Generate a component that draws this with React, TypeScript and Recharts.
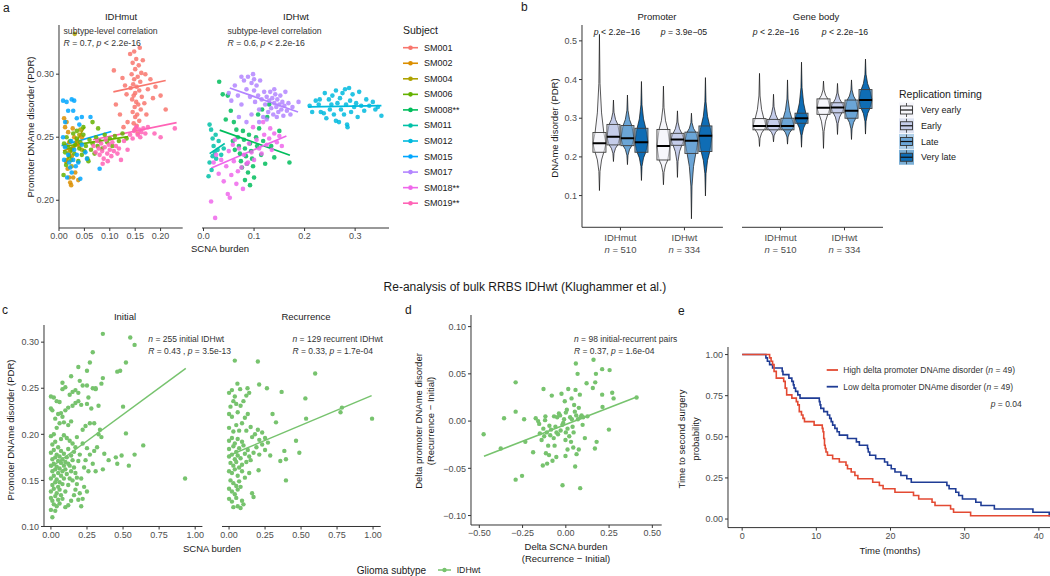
import React from "react";
import {
  Bar,
  ComposedChart,
  Line,
  LineChart,
  ReferenceLine,
  Scatter,
  ScatterChart,
  XAxis,
  YAxis,
} from "recharts";

const FONT = '"Liberation Sans", Arial, Helvetica, sans-serif';
const AXIS = "#333333";
const TICK = { fill: "#4d4d4d", fontSize: 9, fontFamily: FONT };
const INK = "#1a1a1a";
const GREEN = "#77c36e";

// ---------- panel a: per-subject points [SCNA burden, PDR] ----------
const SM001_PTS = [[0.148,0.318],[0.152,0.312],[0.145,0.309],[0.157,0.307],[0.150,0.304],[0.162,0.301],[0.143,0.300],[0.155,0.298],[0.148,0.296],[0.160,0.294],[0.146,0.292],[0.153,0.290],[0.141,0.289],[0.158,0.287],[0.150,0.285],[0.147,0.283],[0.163,0.282],[0.144,0.280],[0.152,0.278],[0.156,0.276],[0.149,0.274],[0.161,0.272],[0.145,0.270],[0.154,0.268],[0.150,0.266],[0.158,0.263],[0.147,0.261],[0.153,0.259],[0.149,0.256],[0.155,0.253],[0.108,0.303],[0.112,0.276],[0.125,0.297],[0.130,0.291],[0.133,0.284],[0.120,0.268],[0.170,0.300],[0.175,0.288],[0.180,0.296],[0.185,0.281],[0.190,0.290],[0.200,0.283],[0.210,0.272],[0.168,0.277],[0.172,0.268],[0.135,0.262],[0.165,0.311],[0.140,0.316],[0.159,0.321],[0.127,0.258]];
const SM002_PTS = [[0.010,0.265],[0.012,0.258],[0.015,0.262],[0.018,0.254],[0.020,0.246],[0.022,0.240],[0.025,0.235],[0.014,0.231],[0.017,0.225],[0.020,0.218],[0.022,0.214],[0.024,0.212],[0.028,0.218],[0.032,0.222],[0.035,0.245],[0.040,0.243],[0.038,0.216],[0.045,0.250],[0.030,0.250],[0.027,0.257]];
const SM004_PTS = [[0.031,0.332],[0.012,0.243],[0.020,0.238],[0.028,0.242],[0.035,0.247],[0.040,0.252],[0.045,0.240],[0.016,0.232],[0.025,0.227],[0.042,0.256]];
const SM006_PTS = [[0.010,0.245],[0.012,0.238],[0.015,0.250],[0.018,0.242],[0.020,0.235],[0.022,0.247],[0.025,0.240],[0.028,0.253],[0.030,0.237],[0.032,0.244],[0.035,0.249],[0.038,0.231],[0.040,0.241],[0.042,0.246],[0.045,0.236],[0.048,0.252],[0.050,0.239],[0.053,0.243],[0.056,0.233],[0.060,0.248],[0.063,0.240],[0.066,0.245],[0.070,0.237],[0.073,0.250],[0.076,0.243],[0.080,0.247],[0.085,0.241],[0.090,0.252],[0.095,0.246],[0.100,0.249],[0.105,0.243],[0.110,0.251],[0.118,0.247],[0.125,0.253],[0.133,0.249],[0.014,0.228],[0.024,0.232],[0.058,0.231],[0.048,0.258],[0.077,0.257],[0.009,0.220],[0.066,0.262],[0.035,0.255]];
const SM008_PTS = [[0.031,0.294],[0.038,0.284],[0.048,0.283],[0.054,0.271],[0.044,0.264],[0.060,0.262],[0.065,0.256],[0.068,0.250],[0.070,0.243],[0.072,0.237],[0.074,0.231],[0.076,0.226],[0.078,0.255],[0.080,0.248],[0.082,0.241],[0.084,0.235],[0.086,0.229],[0.088,0.222],[0.090,0.252],[0.092,0.245],[0.094,0.239],[0.096,0.233],[0.098,0.227],[0.100,0.218],[0.104,0.250],[0.106,0.243],[0.110,0.257],[0.114,0.236],[0.118,0.247],[0.122,0.229],[0.126,0.266],[0.130,0.276],[0.134,0.243],[0.140,0.234],[0.150,0.255],[0.170,0.230],[0.082,0.216],[0.092,0.212],[0.062,0.240],[0.058,0.247],[0.108,0.268],[0.116,0.272]];
const SM011_PTS = [[0.012,0.260],[0.015,0.256],[0.018,0.249],[0.020,0.243],[0.022,0.238],[0.025,0.233],[0.028,0.240],[0.030,0.247],[0.012,0.230],[0.016,0.224],[0.010,0.219],[0.035,0.236],[0.040,0.241],[0.024,0.252],[0.018,0.235]];
const SM012_PTS = [[0.210,0.275],[0.215,0.270],[0.222,0.279],[0.228,0.276],[0.232,0.270],[0.238,0.269],[0.240,0.285],[0.243,0.265],[0.248,0.280],[0.250,0.272],[0.253,0.276],[0.255,0.283],[0.258,0.268],[0.262,0.287],[0.265,0.277],[0.268,0.262],[0.270,0.281],[0.272,0.272],[0.275,0.285],[0.278,0.268],[0.280,0.288],[0.282,0.276],[0.284,0.260],[0.285,0.258],[0.288,0.289],[0.290,0.279],[0.292,0.270],[0.295,0.284],[0.298,0.274],[0.302,0.277],[0.305,0.266],[0.308,0.286],[0.312,0.275],[0.318,0.271],[0.322,0.280],[0.328,0.275],[0.335,0.278],[0.340,0.272],[0.345,0.274],[0.352,0.267],[0.262,0.263],[0.230,0.280]];
const SM015_PTS = [[0.008,0.279],[0.015,0.278],[0.025,0.280],[0.030,0.279],[0.018,0.271],[0.028,0.271],[0.035,0.265],[0.012,0.262],[0.045,0.266],[0.062,0.266],[0.040,0.260],[0.008,0.250],[0.012,0.242],[0.018,0.236],[0.020,0.230],[0.022,0.226],[0.025,0.222],[0.028,0.232],[0.030,0.240],[0.033,0.227],[0.035,0.236],[0.016,0.218],[0.038,0.230],[0.042,0.217],[0.010,0.232],[0.045,0.244],[0.052,0.238],[0.080,0.225],[0.055,0.233],[0.024,0.247]];
const SM017_PTS = [[0.050,0.285],[0.055,0.279],[0.062,0.291],[0.068,0.283],[0.075,0.276],[0.080,0.295],[0.085,0.288],[0.088,0.298],[0.092,0.282],[0.095,0.293],[0.098,0.300],[0.100,0.287],[0.102,0.278],[0.105,0.291],[0.108,0.283],[0.110,0.272],[0.112,0.295],[0.115,0.280],[0.118,0.266],[0.120,0.286],[0.122,0.276],[0.125,0.282],[0.128,0.270],[0.130,0.279],[0.132,0.286],[0.134,0.273],[0.136,0.281],[0.138,0.268],[0.140,0.277],[0.142,0.284],[0.144,0.274],[0.146,0.280],[0.148,0.270],[0.150,0.276],[0.152,0.283],[0.154,0.272],[0.156,0.278],[0.158,0.267],[0.160,0.275],[0.162,0.286],[0.165,0.271],[0.168,0.277],[0.172,0.268],[0.176,0.274],[0.188,0.278],[0.095,0.268],[0.085,0.262],[0.110,0.262],[0.070,0.266],[0.140,0.288],[0.145,0.266],[0.125,0.264],[0.075,0.298],[0.100,0.296]];
const SM018_PTS = [[0.015,0.199],[0.023,0.186],[0.020,0.230],[0.025,0.236],[0.030,0.221],[0.035,0.232],[0.040,0.215],[0.045,0.227],[0.048,0.205],[0.050,0.239],[0.055,0.220],[0.058,0.244],[0.060,0.231],[0.065,0.213],[0.070,0.241],[0.075,0.226],[0.080,0.236],[0.085,0.229],[0.090,0.245],[0.095,0.238],[0.100,0.232],[0.105,0.248],[0.110,0.241],[0.115,0.237],[0.120,0.252],[0.125,0.244],[0.130,0.249],[0.135,0.240],[0.140,0.253],[0.145,0.246],[0.150,0.251],[0.155,0.243],[0.068,0.223],[0.078,0.209],[0.052,0.202],[0.088,0.230],[0.062,0.248],[0.098,0.258],[0.118,0.262],[0.132,0.257]];
const SM019_PTS = [[0.068,0.243],[0.072,0.238],[0.075,0.247],[0.078,0.241],[0.080,0.236],[0.083,0.245],[0.085,0.239],[0.088,0.233],[0.090,0.242],[0.092,0.248],[0.095,0.237],[0.098,0.244],[0.100,0.240],[0.103,0.235],[0.105,0.246],[0.108,0.239],[0.112,0.243],[0.115,0.237],[0.118,0.241],[0.122,0.232],[0.086,0.229],[0.096,0.231],[0.128,0.247],[0.140,0.252],[0.148,0.255],[0.152,0.258],[0.155,0.252],[0.158,0.256],[0.162,0.254],[0.166,0.257],[0.170,0.253],[0.175,0.258],[0.145,0.249],[0.160,0.250],[0.200,0.250],[0.228,0.257],[0.188,0.253],[0.135,0.240]];

const SUBJECTS = ["SM001", "SM002", "SM004", "SM006", "SM008**", "SM011", "SM012", "SM015", "SM017", "SM018**", "SM019**"];
const SUBJECT_COLORS = ["#F8766D", "#DB8E00", "#AEA200", "#64B200", "#00BD5C", "#00C1A7", "#00BADE", "#00A6FF", "#B385FF", "#EF67EB", "#FF63B6"];
const SUBJECT_PTS = [SM001_PTS, SM002_PTS, SM004_PTS, SM006_PTS, SM008_PTS, SM011_PTS, SM012_PTS, SM015_PTS, SM017_PTS, SM018_PTS, SM019_PTS];
const SUBJECT_IDHMUT = [true, true, true, true, false, false, false, true, false, false, true];
// per-subject fit line endpoints [x1, y1, x2, y2]
const SUBJECT_FITS = [
  [0.107, 0.286, 0.21, 0.295],
  [0.008, 0.239, 0.045, 0.245],
  [0.012, 0.229, 0.05, 0.258],
  [0.0146, 0.243, 0.136, 0.2505],
  [0.032, 0.2556, 0.171, 0.2357],
  [0.012, 0.237, 0.042, 0.245],
  [0.207, 0.274, 0.352, 0.275],
  [0.005, 0.2433, 0.103, 0.2545],
  [0.052, 0.289, 0.187, 0.27],
  [0.0155, 0.2256, 0.164, 0.251],
  [0.067, 0.248, 0.2315, 0.2616],
];

// ---------- panel b: [violin min, q1, median, q3, violin max], one per group ----------
const GROUPS = ["IDHmut", "IDHwt"];
const GROUP_N = [510, 334];
const TIMINGS = ["Very early", "Early", "Late", "Very late"];
const TIMING_FILLS = ["#f6f6fb", "#c5cdea", "#6ba5d6", "#0f6db5"];
const PROMOTER_VERY_EARLY = [[0.113, 0.212, 0.235, 0.263, 0.517], [0.128, 0.192, 0.228, 0.271, 0.383]];
const PROMOTER_EARLY = [[0.188, 0.231, 0.252, 0.284, 0.347], [0.147, 0.23, 0.245, 0.261, 0.319]];
const PROMOTER_LATE = [[0.18, 0.229, 0.248, 0.281, 0.36], [0.04, 0.209, 0.242, 0.264, 0.313]];
const PROMOTER_VERY_LATE = [[0.139, 0.212, 0.238, 0.274, 0.395], [0.099, 0.214, 0.255, 0.28, 0.405]];
const GENEBODY_VERY_EARLY = [[0.227, 0.27, 0.28, 0.299, 0.416], [0.222, 0.31, 0.327, 0.35, 0.396]];
const GENEBODY_EARLY = [[0.239, 0.27, 0.28, 0.297, 0.362], [0.258, 0.314, 0.328, 0.34, 0.39]];
const GENEBODY_LATE = [[0.233, 0.27, 0.28, 0.3, 0.399], [0.245, 0.3, 0.319, 0.347, 0.399]];
const GENEBODY_VERY_LATE = [[0.225, 0.287, 0.3, 0.313, 0.445], [0.259, 0.325, 0.347, 0.374, 0.453]];

// ---------- panel c: [SCNA burden, PDR] ----------
const INITIAL_PTS = [[0.00,0.118],[0.01,0.110],[0.02,0.124],[0.00,0.131],[0.01,0.128],[0.03,0.133],[0.00,0.138],[0.02,0.141],[0.04,0.136],[0.01,0.145],[0.03,0.148],[0.05,0.143],[0.00,0.152],[0.02,0.155],[0.04,0.151],[0.06,0.148],[0.01,0.160],[0.03,0.162],[0.05,0.158],[0.07,0.155],[0.00,0.166],[0.02,0.168],[0.04,0.165],[0.06,0.163],[0.08,0.160],[0.01,0.173],[0.03,0.175],[0.05,0.171],[0.07,0.169],[0.09,0.166],[0.00,0.180],[0.02,0.183],[0.04,0.178],[0.06,0.176],[0.08,0.173],[0.10,0.170],[0.01,0.189],[0.03,0.192],[0.05,0.186],[0.07,0.182],[0.09,0.179],[0.11,0.175],[0.12,0.168],[0.10,0.162],[0.11,0.157],[0.09,0.152],[0.08,0.146],[0.06,0.140],[0.07,0.134],[0.05,0.129],[0.04,0.122],[0.03,0.117],[0.06,0.125],[0.08,0.130],[0.10,0.138],[0.12,0.145],[0.13,0.152],[0.14,0.160],[0.13,0.166],[0.15,0.172],[0.14,0.177],[0.16,0.181],[0.17,0.186],[0.15,0.190],[0.12,0.184],[0.13,0.193],[0.11,0.196],[0.09,0.199],[0.07,0.195],[0.16,0.164],[0.17,0.158],[0.15,0.150],[0.18,0.146],[0.17,0.140],[0.16,0.134],[0.14,0.128],[0.12,0.123],[0.10,0.121],[0.19,0.129],[0.20,0.136],[0.18,0.153],[0.19,0.171],[0.20,0.178],[0.18,0.197],[0.02,0.200],[0.04,0.207],[0.00,0.198],[0.06,0.212],[0.08,0.219],[0.00,0.241],[0.02,0.240],[0.04,0.236],[0.06,0.235],[0.00,0.228],[0.01,0.226],[0.05,0.222],[0.07,0.223],[0.03,0.217],[0.09,0.213],[0.12,0.210],[0.14,0.214],[0.10,0.226],[0.12,0.229],[0.15,0.231],[0.17,0.234],[0.19,0.236],[0.21,0.232],[0.25,0.233],[0.28,0.228],[0.33,0.231],[0.13,0.243],[0.15,0.246],[0.17,0.248],[0.19,0.245],[0.10,0.251],[0.08,0.249],[0.25,0.253],[0.29,0.250],[0.31,0.250],[0.26,0.240],[0.22,0.205],[0.24,0.209],[0.27,0.212],[0.30,0.212],[0.34,0.205],[0.22,0.190],[0.25,0.185],[0.27,0.178],[0.24,0.172],[0.29,0.168],[0.23,0.164],[0.26,0.160],[0.21,0.152],[0.23,0.143],[0.25,0.138],[0.22,0.130],[0.21,0.122],[0.30,0.182],[0.33,0.200],[0.35,0.197],[0.32,0.186],[0.37,0.179],[0.36,0.162],[0.31,0.160],[0.40,0.172],[0.45,0.175],[0.46,0.168],[0.49,0.177],[0.52,0.201],[0.50,0.230],[0.58,0.178],[0.54,0.166],[0.64,0.188],[0.93,0.152],[0.36,0.309],[0.55,0.305],[0.58,0.297],[0.29,0.289],[0.27,0.278],[0.19,0.273],[0.52,0.278],[0.46,0.268],[0.48,0.269],[0.14,0.263],[0.25,0.269],[0.08,0.256],[0.36,0.261],[0.31,0.249],[0.20,0.258],[0.22,0.253],[0.35,0.255]];
const RECURRENCE_PTS = [[0.040,0.280],[0.200,0.279],[0.058,0.255],[0.077,0.249],[0.128,0.250],[0.209,0.254],[0.263,0.250],[0.365,0.246],[0.598,0.266],[0.530,0.239],[0.535,0.217],[0.774,0.224],[0.784,0.229],[0.993,0.217],[0.302,0.222],[0.326,0.213],[0.465,0.193],[0.488,0.180],[0.384,0.182],[0.395,0.173],[0.356,0.171],[0.395,0.150],[0.286,0.177],[0.205,0.161],[0.00,0.245],[0.02,0.248],[0.04,0.241],[0.03,0.236],[0.01,0.230],[0.05,0.233],[0.00,0.222],[0.02,0.219],[0.06,0.224],[0.08,0.231],[0.10,0.236],[0.12,0.242],[0.14,0.245],[0.09,0.212],[0.11,0.218],[0.13,0.222],[0.00,0.207],[0.03,0.203],[0.05,0.210],[0.07,0.204],[0.12,0.204],[0.15,0.208],[0.18,0.200],[0.20,0.205],[0.23,0.202],[0.00,0.193],[0.02,0.196],[0.04,0.190],[0.06,0.195],[0.09,0.192],[0.16,0.197],[0.21,0.194],[0.25,0.196],[0.00,0.184],[0.03,0.187],[0.05,0.181],[0.07,0.185],[0.10,0.188],[0.13,0.183],[0.19,0.186],[0.23,0.189],[0.27,0.191],[0.00,0.176],[0.02,0.178],[0.04,0.173],[0.06,0.177],[0.08,0.174],[0.11,0.179],[0.14,0.176],[0.17,0.180],[0.21,0.178],[0.25,0.183],[0.01,0.169],[0.03,0.166],[0.05,0.170],[0.07,0.164],[0.09,0.167],[0.12,0.170],[0.15,0.172],[0.00,0.160],[0.02,0.158],[0.04,0.162],[0.06,0.155],[0.09,0.160],[0.11,0.153],[0.14,0.158],[0.01,0.150],[0.03,0.147],[0.05,0.144],[0.07,0.149],[0.00,0.141],[0.02,0.138],[0.04,0.135],[0.06,0.140],[0.08,0.143],[0.00,0.130],[0.02,0.127],[0.05,0.131],[0.09,0.128],[0.03,0.121],[0.06,0.122],[0.08,0.120],[0.16,0.136],[0.17,0.132],[0.10,0.124]];
const INITIAL_FIT = [0.0, 0.164, 0.935, 0.2715];
const RECURRENCE_FIT = [0.0, 0.177, 0.99, 0.242];

// ---------- panel d: [delta SCNA, delta PDR] ----------
const DELTA_PTS = [[-0.475,-0.014],[-0.376,-0.029],[-0.357,0.003],[-0.290,0.041],[-0.290,0.010],[-0.290,-0.062],[-0.253,-0.058],[-0.241,0.002],[-0.234,-0.022],[-0.189,-0.033],[-0.174,0.003],[-0.154,-0.003],[-0.129,0.034],[-0.118,0.005],[-0.102,-0.026],[-0.097,-0.036],[-0.108,-0.045],[-0.133,-0.047],[-0.077,-0.042],[-0.081,0.027],[-0.068,0.005],[-0.060,-0.006],[-0.054,-0.012],[-0.033,0.006],[-0.025,0.029],[-0.019,-0.068],[-0.015,-0.002],[-0.006,0.021],[-0.002,-0.020],[-0.002,-0.037],[0.006,0.012],[0.014,0.034],[0.033,0.024],[0.039,-0.006],[0.043,-0.028],[0.048,0.017],[0.052,0.010],[0.054,-0.048],[0.056,0.033],[0.062,-0.035],[0.058,0.061],[0.068,0.050],[0.075,0.014],[0.081,0.028],[0.083,-0.071],[0.091,0.006],[0.097,-0.004],[0.110,-0.018],[0.120,0.040],[0.125,0.005],[0.156,0.035],[0.160,0.065],[0.170,0.041],[0.174,0.050],[0.178,-0.022],[0.168,-0.029],[0.210,0.055],[0.210,0.028],[0.212,0.015],[0.253,0.054],[0.249,-0.009],[0.268,0.030],[0.276,0.024],[0.409,0.025],[-0.150,-0.013],[-0.140,-0.020],[-0.130,-0.008],[-0.125,-0.016],[-0.120,0.001],[-0.110,-0.012],[-0.095,-0.005],[-0.090,-0.015],[-0.085,-0.009],[-0.070,-0.018],[-0.065,-0.026],[-0.050,0.004],[-0.045,-0.014],[-0.040,0.008],[-0.030,-0.010],[-0.020,-0.004],[-0.010,0.002],[0.000,-0.012],[0.010,-0.008],[0.020,-0.016],[0.025,0.004],[0.030,-0.022],[0.035,0.002],[0.045,-0.012],[0.060,0.006],[0.070,0.002],[0.085,0.004],[0.100,0.004],[-0.160,0.000],[-0.115,-0.034],[-0.055,-0.038],[0.010,-0.030],[0.075,-0.030],[0.000,0.009]];
const DELTA_FIT = [-0.473, -0.0372, 0.409, 0.0255];

// ---------- panel e: Kaplan-Meier steps [months, probability] ----------
const HIGH_KM = [[0,1.0],[3.7,0.98],[3.9,0.959],[4.1,0.939],[4.3,0.898],[4.6,0.857],[5.6,0.837],[5.8,0.796],[6.0,0.755],[6.7,0.735],[7.3,0.714],[7.5,0.694],[7.7,0.653],[8.0,0.633],[8.2,0.612],[8.4,0.592],[9.7,0.571],[10.8,0.551],[10.9,0.531],[11.0,0.49],[11.1,0.449],[11.2,0.429],[11.3,0.408],[11.5,0.388],[12.2,0.367],[13.1,0.347],[14.0,0.327],[14.2,0.306],[14.7,0.286],[15.2,0.265],[15.6,0.245],[17.6,0.224],[18.5,0.204],[19.0,0.184],[20.6,0.163],[23.1,0.143],[23.8,0.122],[25.6,0.102],[26.0,0.082],[28.1,0.061],[28.5,0.041],[30.8,0.02],[42,0.02]];
const LOW_KM = [[0,1.0],[3.2,0.98],[3.4,0.959],[3.7,0.939],[4.1,0.918],[5.4,0.898],[5.5,0.878],[6.3,0.857],[6.7,0.837],[6.9,0.816],[7.0,0.796],[7.2,0.776],[7.5,0.755],[7.8,0.735],[10.4,0.714],[10.5,0.694],[10.6,0.673],[11.0,0.653],[11.5,0.633],[11.8,0.612],[12.0,0.592],[12.2,0.571],[12.5,0.551],[12.8,0.531],[13.1,0.51],[14.2,0.49],[15.4,0.469],[15.8,0.449],[16.9,0.429],[17.0,0.408],[17.2,0.388],[18.0,0.367],[19.2,0.347],[19.6,0.327],[20.1,0.306],[20.6,0.286],[21.4,0.265],[22.2,0.245],[22.8,0.224],[27.6,0.204],[27.9,0.184],[28.8,0.163],[29.2,0.143],[29.7,0.122],[31.5,0.102],[32.2,0.082],[34.0,0.061],[39.2,0.041],[41.4,0.02],[42,0.02]];

const toXY = (pts: number[][]) => pts.map(([x, y]) => ({ x, y }));
const fmt = (d: number) => (v: number) => (v < 0 ? "\u2212" + Math.abs(v).toFixed(d) : v.toFixed(d));

const PAD = 4;
const SIDE = 14; // room for the first tick label when the facet has no y axis
type Box = { l: number; t: number; r: number; b: number };
function place(box: Box, yw: number, xh: number) {
  const lm = yw ? 0 : SIDE;
  return {
    style: { position: "absolute" as const, left: box.l - yw - lm, top: box.t - PAD },
    width: yw + lm + (box.r - box.l) + PAD,
    height: PAD + (box.b - box.t) + xh,
    margin: { top: PAD, right: PAD, bottom: 0, left: lm },
  };
}

const dot = (color: string, r = 2.3, op = 0.85) => (p: any) =>
  <circle cx={p.cx} cy={p.cy} r={r} fill={color} fillOpacity={op} />;

function ScatterPanel({ box, yw = 0, xDomain, yDomain, xTicks, yTicks, xFmt, yFmt, series, fits, lineWidth = 1.7 }: any) {
  const p = place(box, yw, 16);
  return (
    <div style={p.style}>
      <ScatterChart width={p.width} height={p.height} margin={p.margin}>
        <XAxis type="number" dataKey="x" domain={xDomain} ticks={xTicks} tickFormatter={xFmt} interval={0}
          allowDataOverflow stroke={AXIS} tick={TICK} tickSize={3} tickMargin={2} height={16} />
        <YAxis type="number" dataKey="y" domain={yDomain} ticks={yTicks} tickFormatter={yFmt} interval={0}
          allowDataOverflow stroke={AXIS} tick={TICK} tickSize={3} tickMargin={2} width={yw} hide={!yw} />
        {series.map((s: any, i: number) => (
          <Scatter key={i} data={toXY(s.pts)} fill={s.color} shape={dot(s.color, s.r, s.op)} isAnimationActive={false} />
        ))}
        {fits.map((f: any, i: number) => (
          <ReferenceLine key={"f" + i} segment={[{ x: f.v[0], y: f.v[1] }, { x: f.v[2], y: f.v[3] }]}
            stroke={f.color} strokeWidth={lineWidth} ifOverflow="visible" />
        ))}
      </ScatterChart>
    </div>
  );
}

function ViolinBox(props: any) {
  const { x, y, width, height, stats, fill } = props;
  if (!stats) return null;
  const [mn, q1, md, q3, mx] = stats;
  const top = Math.min(y, y + height);
  const h = Math.abs(height);
  const py = (v: number) => top + (h * (mx - v)) / (mx - mn);
  const cx = x + width / 2;
  const half = width / 2;
  const prof = [
    [mx, 0], [q3 + (mx - q3) * 0.5, 0.08], [q3 + (mx - q3) * 0.2, 0.3], [q3, 0.62], [md, 0.93],
    [q1, 0.62], [q1 - (q1 - mn) * 0.2, 0.3], [q1 - (q1 - mn) * 0.5, 0.08], [mn, 0],
  ];
  const right = prof.map(([v, f]) => `${cx + f * half},${py(v)}`);
  const left = prof.slice().reverse().map(([v, f]) => `${cx - f * half},${py(v)}`);
  const bw = width - 1;
  return (
    <g>
      <polygon points={[...right, ...left].join(" ")} fill={fill} stroke="#111" strokeWidth={0.7} />
      <rect x={cx - bw / 2} y={py(q3)} width={bw} height={py(q1) - py(q3)} fill={fill} fillOpacity={0.5}
        stroke="#3d3d3d" strokeWidth={0.9} />
      <line x1={cx - bw / 2} x2={cx + bw / 2} y1={py(md)} y2={py(md)} stroke="#000" strokeWidth={2} />
    </g>
  );
}

function GroupTick({ x, y, payload, index }: any) {
  return (
    <g fontFamily={FONT} fill="#4d4d4d" fontSize={9.5} textAnchor="middle">
      <text x={x} y={y + 5} dominantBaseline="central">{payload.value}</text>
      <text x={x} y={y + 17} dominantBaseline="central">
        <tspan fontStyle="italic">n</tspan> = {GROUP_N[index]}
      </text>
    </g>
  );
}

function ViolinPanel({ box, yw = 0, stats }: any) {
  const p = place(box, yw, 30);
  const rows = GROUPS.map((g, gi) => {
    const row: any = { group: g };
    stats.forEach((s: number[][], k: number) => {
      row["r" + k] = [s[gi][0], s[gi][4]];
      row["s" + k] = s[gi];
    });
    return row;
  });
  const pad = (box.r - box.l - 128) / 2;
  return (
    <div style={p.style}>
      <ComposedChart width={p.width} height={p.height} margin={p.margin} data={rows} barSize={14} barGap={0}>
        <XAxis dataKey="group" type="category" padding={{ left: pad, right: pad }} stroke={AXIS} tickSize={3}
          tickMargin={2} height={30} tick={<GroupTick />} interval={0} />
        <YAxis type="number" domain={[0.018, 0.541]} ticks={[0.1, 0.2, 0.3, 0.4, 0.5]} tickFormatter={fmt(1)}
          interval={0} allowDataOverflow stroke={AXIS} tick={TICK} tickSize={3} tickMargin={2} width={yw} hide={!yw} />
        {TIMINGS.map((t, k) => (
          <Bar key={t} dataKey={"r" + k} isAnimationActive={false}
            shape={(sp: any) => <ViolinBox {...sp} stats={sp.payload["s" + k]} fill={TIMING_FILLS[k]} />} />
        ))}
      </ComposedChart>
    </div>
  );
}

function KMPanel({ box, yw }: any) {
  const p = place(box, yw, 16);
  const high = HIGH_KM.map(([t, s]) => ({ t, s }));
  const low = LOW_KM.map(([t, s]) => ({ t, s }));
  return (
    <div style={p.style}>
      <LineChart width={p.width} height={p.height} margin={{ ...p.margin, right: 0 }}>
        <XAxis type="number" dataKey="t" domain={[-1.91, 42]} ticks={[0, 10, 20, 30, 40]} interval={0}
          allowDataOverflow stroke={AXIS} tick={TICK} tickSize={3} tickMargin={2} height={16} />
        <YAxis type="number" domain={[-0.052, 1.046]} ticks={[0, 0.25, 0.5, 0.75, 1]} tickFormatter={fmt(2)}
          interval={0} allowDataOverflow stroke={AXIS} tick={TICK} tickSize={3} tickMargin={2} width={yw} />
        <Line data={low} dataKey="s" type="stepAfter" stroke="#1f3c95" strokeWidth={1.6} dot={false}
          isAnimationActive={false} />
        <Line data={high} dataKey="s" type="stepAfter" stroke="#e34a33" strokeWidth={1.6} dot={false}
          isAnimationActive={false} />
      </LineChart>
    </div>
  );
}

const T = ({ x, y, s = 9, a = "start", r, c = INK, children }: any) => (
  <text x={x} y={y} fontSize={s} textAnchor={a} dominantBaseline="central" fill={c} fontFamily={FONT}
    transform={r ? `rotate(${r} ${x} ${y})` : undefined}>
    {children}
  </text>
);
const I = ({ children }: any) => <tspan fontStyle="italic">{children}</tspan>;

export default function App() {
  const mutSeries = SUBJECTS.map((s, i) => ({ pts: SUBJECT_PTS[i], color: SUBJECT_COLORS[i], i }))
    .filter((s) => SUBJECT_IDHMUT[s.i]);
  const wtSeries = SUBJECTS.map((s, i) => ({ pts: SUBJECT_PTS[i], color: SUBJECT_COLORS[i], i }))
    .filter((s) => !SUBJECT_IDHMUT[s.i]);
  const mutFits = mutSeries.map((s) => ({ v: SUBJECT_FITS[s.i], color: s.color }));
  const wtFits = wtSeries.map((s) => ({ v: SUBJECT_FITS[s.i], color: s.color }));
  const green = (pts: number[][]) => [{ pts, color: GREEN, r: 2.2, op: 1 }];

  return (
    <div style={{ position: "absolute", left: 0, top: 0, width: 1050, height: 576, background: "#fff", overflow: "hidden" }}>
      {/* a */}
      <ScatterPanel box={{ l: 59.3, t: 25, r: 183, b: 228 }} yw={36} xDomain={[0, 0.2435]} yDomain={[0.178, 0.339]}
        xTicks={[0, 0.05, 0.1, 0.15, 0.2]} yTicks={[0.2, 0.25, 0.3]} xFmt={fmt(2)} yFmt={fmt(2)}
        series={mutSeries} fits={mutFits} />
      <ScatterPanel box={{ l: 202, t: 25, r: 389, b: 228 }} xDomain={[-0.003, 0.367]} yDomain={[0.178, 0.339]}
        xTicks={[0, 0.1, 0.2, 0.3]} xFmt={fmt(1)} series={wtSeries} fits={wtFits} />
      {/* b */}
      <ViolinPanel box={{ l: 582.3, t: 25, r: 723.2, b: 227.3 }} yw={30}
        stats={[PROMOTER_VERY_EARLY, PROMOTER_EARLY, PROMOTER_LATE, PROMOTER_VERY_LATE]} />
      <ViolinPanel box={{ l: 742.3, t: 25, r: 883.3, b: 227.3 }}
        stats={[GENEBODY_VERY_EARLY, GENEBODY_EARLY, GENEBODY_LATE, GENEBODY_VERY_LATE]} />
      {/* c */}
      <ScatterPanel box={{ l: 44.3, t: 325, r: 202.7, b: 526.5 }} yw={36} xDomain={[-0.048, 1.05]} yDomain={[0.1, 0.3186]}
        xTicks={[0, 0.25, 0.5, 0.75, 1]} yTicks={[0.1, 0.15, 0.2, 0.25, 0.3]} xFmt={fmt(2)} yFmt={fmt(2)}
        series={green(INITIAL_PTS)} fits={[{ v: INITIAL_FIT, color: GREEN }]} lineWidth={1.5} />
      <ScatterPanel box={{ l: 222.3, t: 325, r: 381, b: 526.5 }} xDomain={[-0.049, 1.053]} yDomain={[0.1, 0.3186]}
        xTicks={[0, 0.25, 0.5, 0.75, 1]} xFmt={fmt(2)}
        series={green(RECURRENCE_PTS)} fits={[{ v: RECURRENCE_FIT, color: GREEN }]} lineWidth={1.5} />
      {/* d */}
      <ScatterPanel box={{ l: 471, t: 315, r: 661.7, b: 525 }} yw={36} xDomain={[-0.548, 0.554]} yDomain={[-0.11, 0.1123]}
        xTicks={[-0.5, -0.25, 0, 0.25, 0.5]} yTicks={[-0.1, -0.05, 0, 0.05, 0.1]} xFmt={fmt(2)} yFmt={fmt(2)}
        series={green(DELTA_PTS)} fits={[{ v: DELTA_FIT, color: GREEN }]} lineWidth={1.5} />
      {/* e */}
      <KMPanel box={{ l: 728.3, t: 346.7, r: 1050, b: 527.3 }} yw={36} />

      <svg width={1050} height={576} style={{ position: "absolute", left: 0, top: 0, pointerEvents: "none" }}>
        {/* panel a text */}
        <T x={3} y={8} s={12}>a</T>
        <T x={121} y={16} s={9.5} a="middle">IDHmut</T>
        <T x={296} y={16} s={9.5} a="middle">IDHwt</T>
        <T x={63.5} y={30.5} s={8.7} c="#333">subtype-level correlation</T>
        <T x={63.5} y={43} s={8.7} c="#333"><I>R</I> = 0.7, <I>p</I> &lt; 2.2e-16</T>
        <T x={227.5} y={30.5} s={8.7} c="#333">subtype-level correlation</T>
        <T x={227.5} y={43} s={8.7} c="#333"><I>R</I> = 0.6, <I>p</I> &lt; 2.2e-16</T>
        <T x={220} y={248} s={9.5} a="middle">SCNA burden</T>
        <T x={30} y={127} s={9.5} a="middle" r={-90}>Promoter DNAme disorder (PDR)</T>
        <T x={403} y={30} s={10.5}>Subject</T>
        {SUBJECTS.map((s, i) => {
          const cy = 47.7 + i * 15.55;
          return (
            <g key={s}>
              <line x1={403} x2={418} y1={cy} y2={cy} stroke={SUBJECT_COLORS[i]} strokeWidth={1.6} />
              <circle cx={410.5} cy={cy} r={2.3} fill={SUBJECT_COLORS[i]} />
              <T x={424} y={cy} s={9}>{s}</T>
            </g>
          );
        })}

        {/* panel b text */}
        <T x={521} y={7} s={12}>b</T>
        <T x={657} y={16} s={9.5} a="middle">Promoter</T>
        <T x={816} y={16} s={9.5} a="middle">Gene body</T>
        <T x={617} y={32.3} s={8.7} a="middle"><I>p</I> &lt; 2.2e−16</T>
        <T x={684} y={32.3} s={8.7} a="middle"><I>p</I> = 3.9e−05</T>
        <T x={776} y={32.3} s={8.7} a="middle"><I>p</I> &lt; 2.2e−16</T>
        <T x={845} y={32.3} s={8.7} a="middle"><I>p</I> &lt; 2.2e−16</T>
        <T x={554} y={128} s={9.5} a="middle" r={-90}>DNAme disorder (PDR)</T>
        <T x={899} y={94} s={10.5}>Replication timing</T>
        {TIMINGS.map((t, i) => {
          const cy = 110 + i * 15.75;
          const f = TIMING_FILLS[i];
          return (
            <g key={t}>
              <rect x={899} y={cy - 7.5} width={15} height={15} fill={f} fillOpacity={i ? 0.55 : 1} />
              <line x1={906.5} x2={906.5} y1={cy - 7} y2={cy + 7} stroke="#333" strokeWidth={0.8} />
              <rect x={900.5} y={cy - 4} width={12} height={8} fill={f} stroke="#333" strokeWidth={0.9} />
              <line x1={900.5} x2={912.5} y1={cy} y2={cy} stroke="#111" strokeWidth={1.2} />
              <T x={921} y={cy} s={9}>{t}</T>
            </g>
          );
        })}

        <T x={525} y={287} s={12} a="middle">Re-analysis of bulk RRBS IDHwt (Klughammer et al.)</T>

        {/* panel c text */}
        <T x={2} y={310} s={12}>c</T>
        <T x={125} y={316} s={9.5} a="middle">Initial</T>
        <T x={306} y={316} s={9.5} a="middle">Recurrence</T>
        <T x={148.3} y={338.5} s={8.5} c="#333"><I>n</I> = 255 initial IDHwt</T>
        <T x={148.3} y={350.5} s={8.5} c="#333"><I>R</I> = 0.43 , <I>p</I> = 3.5e-13</T>
        <T x={292.5} y={338.5} s={8.5} c="#333"><I>n</I> = 129 recurrent IDHwt</T>
        <T x={292.5} y={350.5} s={8.5} c="#333"><I>R</I> = 0.33, <I>p</I> = 1.7e-04</T>
        <T x={212} y={548} s={9.5} a="middle">SCNA burden</T>
        <T x={10.5} y={430} s={9.5} a="middle" r={-90}>Promoter DNAme disorder (PDR)</T>
        <T x={356.7} y={570} s={10}>Glioma subtype</T>
        <line x1={438} x2={451} y1={570} y2={570} stroke={GREEN} strokeWidth={1.5} />
        <circle cx={444.5} cy={570} r={2.2} fill={GREEN} />
        <T x={456.7} y={570} s={8.7}>IDHwt</T>

        {/* panel d text */}
        <T x={405} y={310} s={12}>d</T>
        <T x={574} y={338.5} s={8.5} c="#333"><I>n</I> = 98 initial-recurrent pairs</T>
        <T x={574} y={350.5} s={8.5} c="#333"><I>R</I> = 0.37, <I>p</I> = 1.6e-04</T>
        <T x={566} y={546.7} s={9.5} a="middle">Delta SCNA burden</T>
        <T x={566} y={558} s={9.5} a="middle">(Recurrence − Initial)</T>
        <T x={418.3} y={421} s={9.5} a="middle" r={-90}>Delta promoter DNAme disorder</T>
        <T x={430} y={421} s={9.5} a="middle" r={-90}>(Recurrence − Initial)</T>

        {/* panel e text */}
        <T x={678} y={311} s={12}>e</T>
        <line x1={826.7} x2={838} y1={370} y2={370} stroke="#e34a33" strokeWidth={1.8} />
        <T x={843.3} y={370} s={8.5} c="#333">High delta promoter DNAme disorder (<I>n</I> = 49)</T>
        <line x1={826.7} x2={838} y1={386.7} y2={386.7} stroke="#1f3c95" strokeWidth={1.8} />
        <T x={843.3} y={386.7} s={8.5} c="#333">Low delta promoter DNAme disorder (<I>n</I> = 49)</T>
        <T x={1021.7} y={403.7} s={8.5} a="end" c="#333"><I>p</I> = 0.04</T>
        <T x={890} y={550} s={9.5} a="middle">Time (months)</T>
        <T x={681.7} y={439} s={9.5} a="middle" r={-90}>Time to second surgery</T>
        <T x={695.5} y={439} s={9.5} a="middle" r={-90}>probability</T>
      </svg>
    </div>
  );
}
